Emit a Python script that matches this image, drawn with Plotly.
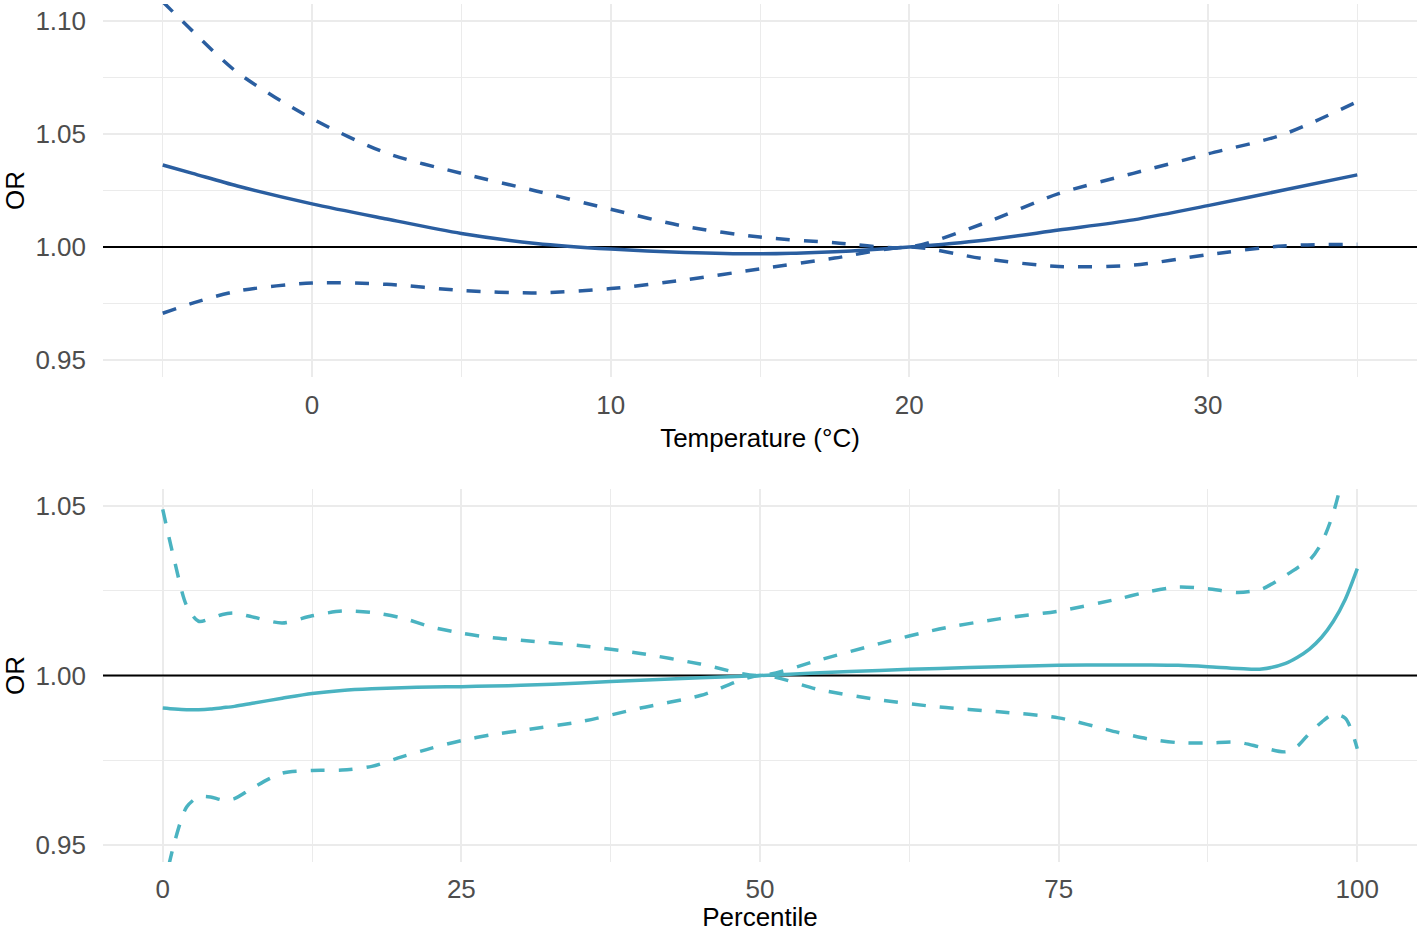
import plotly.graph_objects as go

# ---------------- data ----------------
temp = [-5, -4, -2.5, 0, 2.5, 5, 7.5, 10, 12.5, 15, 17.5, 20, 22.5, 25, 27.5, 30, 32.5, 35]
temp_or = [1.0363, 1.0326, 1.0270, 1.0191, 1.0124, 1.0060, 1.0016, 0.9991, 0.9976, 0.9970,
           0.9979, 1.0000, 1.0030, 1.0075, 1.0120, 1.0183, 1.0251, 1.0319]
temp_upper = [1.1085, 1.0955, 1.0772, 1.0568, 1.0415, 1.0326, 1.0248, 1.0167, 1.0091, 1.0044,
              1.0019, 1.0000, 1.0105, 1.0236, 1.0326, 1.0412, 1.0497, 1.0643]
temp_lower = [0.9707, 0.9752, 0.9805, 0.9841, 0.9835, 0.9808, 0.9797, 0.9816, 0.9855, 0.9903,
              0.9951, 1.0000, 0.9948, 0.9914, 0.9920, 0.9966, 1.0005, 1.0012]

pct = [0, 1, 2, 3, 4, 5, 6, 7.5, 10, 12.5, 15, 17.5, 20, 22.5, 25, 27.5, 30, 35, 40, 45, 50,
       55, 60, 65, 70, 75, 80, 82.5, 85, 87.5, 90, 92, 94, 95, 96, 97, 98, 99, 100]
pct_or = [0.9904, 0.9901, 0.9899, 0.9899, 0.9901, 0.9905, 0.9909, 0.9918, 0.9933, 0.9947,
          0.9956, 0.9961, 0.9964, 0.9966, 0.9967, 0.9969, 0.9971, 0.9978, 0.9986, 0.9993, 1.0000,
          1.0008, 1.0015, 1.0021, 1.0026, 1.0030, 1.0031, 1.0031, 1.0030, 1.0026, 1.0021, 1.0019,
          1.0036, 1.0054, 1.0078, 1.0112, 1.0160, 1.0225, 1.0315]
pct_upper = [1.0490, 1.0336, 1.0206, 1.0160, 1.0168, 1.0180, 1.0184, 1.0173, 1.0155, 1.0176,
             1.0190, 1.0186, 1.0170, 1.0143, 1.0125, 1.0112, 1.0104, 1.0088, 1.0065, 1.0034, 1.0000,
             1.0046, 1.0094, 1.0137, 1.0167, 1.0190, 1.0226, 1.0247, 1.0261, 1.0256, 1.0245, 1.0255,
             1.0295, 1.0318, 1.0340, 1.0390, 1.0480, 1.0620, 1.0800]
pct_lower = [0.9360, 0.9510, 0.9612, 0.9642, 0.9642, 0.9633, 0.9637, 0.9668, 0.9712, 0.9720,
             0.9721, 0.9732, 0.9760, 0.9786, 0.9808, 0.9825, 0.9838, 0.9864, 0.9904, 0.9941, 1.0000,
             0.9958, 0.9928, 0.9907, 0.9893, 0.9875, 0.9832, 0.9813, 0.9802, 0.9801, 0.9803, 0.9788,
             0.9775, 0.9792, 0.9830, 0.9862, 0.9886, 0.9874, 0.9784]

temp_range = [-7, 37]
pct_range = [-5, 105]
ref_or = 1.0

BLUE = "#2A5EA0"
TEAL = "#4AB3C1"
FONT = "Liberation Sans, Arial, Helvetica, sans-serif"
GRID = "#EBEBEB"

W, H = 1424, 932

fig = go.Figure()

def add_panel(x, lo, est, hi, color, xa, ya, xr):
    # reference line at OR = 1 (drawn first, under the curves)
    fig.add_trace(go.Scatter(x=xr, y=[ref_or, ref_or], mode="lines", xaxis=xa, yaxis=ya,
                             line=dict(color="black", width=2), showlegend=False,
                             hoverinfo="skip", cliponaxis=False))
    for yv, dash in ((lo, "14px,14px"), (hi, "14px,14px"), (est, "solid")):
        fig.add_trace(go.Scatter(
            x=x, y=yv, mode="lines", xaxis=xa, yaxis=ya,
            line=dict(color=color, width=3.5, dash=dash, shape="spline", smoothing=0.8),
            showlegend=False, hoverinfo="skip"))

add_panel(temp, temp_lower, temp_or, temp_upper, BLUE, "x", "y", temp_range)
add_panel(pct, pct_lower, pct_or, pct_upper, TEAL, "x2", "y2", pct_range)

tickfont = dict(family=FONT, size=26, color="#4D4D4D")
titlefont = dict(family=FONT, size=26, color="black")

xdom = [103 / W, 1417 / W]
top_dom = [1 - 377 / H, 1 - 4 / H]
bot_dom = [1 - 862 / H, 1 - 489 / H]

def xaxis(rng, dtick, minor, title, anchor, tstand, lstand):
    return dict(domain=xdom, range=rng, anchor=anchor, tick0=0, dtick=dtick,
                showgrid=True, gridcolor=GRID, gridwidth=2.2, zeroline=False, showline=False,
                ticks="", tickfont=tickfont, ticklabelstandoff=lstand,
                minor=dict(dtick=minor, tick0=0, showgrid=True, gridcolor=GRID, gridwidth=1.3),
                title=dict(text=title, font=titlefont, standoff=tstand), automargin=False)

def yaxis(rng, dom, anchor):
    return dict(domain=dom, range=rng, anchor=anchor, tick0=0.95, dtick=0.05, tickformat=".2f",
                showgrid=True, gridcolor=GRID, gridwidth=2.2, zeroline=False, showline=False,
                ticks="", tickfont=tickfont, ticklabelstandoff=16,
                minor=dict(dtick=0.025, tick0=0.95, showgrid=True, gridcolor=GRID, gridwidth=1.3),
                title=dict(text="OR", font=titlefont, standoff=13), automargin=False)

fig.update_layout(
    width=W, height=H,
    margin=dict(l=0, r=0, t=0, b=0, pad=0),
    paper_bgcolor="white", plot_bgcolor="white",
    font=dict(family=FONT),
    xaxis=xaxis(temp_range, 10, 5, "Temperature (°C)", "y", 9, 10),
    yaxis=yaxis([0.9425, 1.1075], top_dom, "x"),
    xaxis2=xaxis(pct_range, 25, 12.5, "Percentile", "y2", 13, 9),
    yaxis2=yaxis([0.945, 1.055], bot_dom, "x2"),
)

fig.write_html("out.html", config={"displayModeBar": False},
               post_script="document.body.style.margin='0';document.body.style.overflow='hidden';")
